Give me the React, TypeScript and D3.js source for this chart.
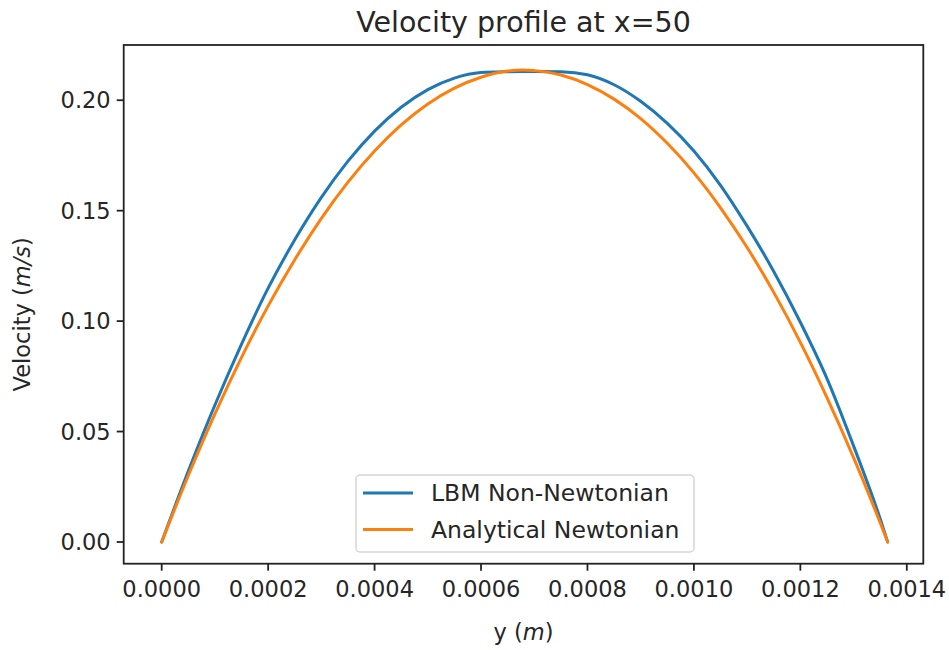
import React from "react";
import * as d3 from "d3";

const yPos: number[] = [0, 0.00005, 0.0001, 0.00015, 0.0002, 0.00025, 0.0003, 0.00035, 0.0004, 0.00045, 0.0005, 0.00055, 0.0006, 0.00065, 0.00068, 0.0007, 0.00075, 0.0008, 0.00085, 0.0009, 0.00095, 0.001, 0.00105, 0.0011, 0.00115, 0.0012, 0.00125, 0.0013, 0.00135, 0.001364];
const lbmVel: number[] = [0, 0.0321, 0.062, 0.0896, 0.1149, 0.1368, 0.156, 0.1724, 0.186, 0.1968, 0.2048, 0.21, 0.2125, 0.2129, 0.213, 0.213, 0.2129, 0.2115, 0.207, 0.1995, 0.1895, 0.177, 0.1615, 0.143, 0.1225, 0.0995, 0.074, 0.0435, 0.0105, 0];
const analyticVel: number[] = [0, 0.0301, 0.058, 0.0836, 0.1069, 0.1278, 0.1465, 0.1629, 0.177, 0.1888, 0.1983, 0.2055, 0.2104, 0.2132, 0.2137, 0.2134, 0.2114, 0.2071, 0.2005, 0.1917, 0.1805, 0.1671, 0.1513, 0.1333, 0.113, 0.0904, 0.0654, 0.0382, 0.0087, 0];
const xTicks: number[] = [0, 0.0002, 0.0004, 0.0006, 0.0008, 0.001, 0.0012, 0.0014];
const yTicks: number[] = [0, 0.05, 0.1, 0.15, 0.2];
const seriesNames: string[] = ["LBM Non-Newtonian", "Analytical Newtonian"];
const colors: string[] = ["#1f77b4", "#ff7f0e"];

const FONT = "'DejaVu Sans', sans-serif";

export default function App() {
  const left = 123.7, right = 923.3, top = 45, bottom = 563.7;
  const x = d3.scaleLinear().domain([-0.0000714, 0.001431]).range([left, right]);
  const y = d3.scaleLinear().domain([-0.00983, 0.225]).range([bottom, top]);
  const line = d3.line<[number, number]>().x((d) => x(d[0])).y((d) => y(d[1])).curve(d3.curveMonotoneX);
  const series = [lbmVel, analyticVel];
  const tickLen = 7;
  return (
    <svg width={949} height={650} style={{ position: "absolute", left: 0, top: 0, background: "#fff" }} fontFamily={FONT}>
      <rect x={0} y={0} width={949} height={650} fill="#fff" />
      {series.map((s, i) => (
        <path key={i} d={line(yPos.map((p, j) => [p, s[j]] as [number, number])) || ""} fill="none" stroke={colors[i]} strokeWidth={3} strokeLinejoin="round" strokeLinecap="round" />
      ))}
      <rect x={left} y={top} width={right - left} height={bottom - top} fill="none" stroke="#222" strokeWidth={1.8} />
      {xTicks.map((t) => (
        <g key={t} transform={`translate(${x(t)},0)`}>
          <line y1={bottom} y2={bottom + tickLen} stroke="#222" strokeWidth={1.8} />
          <text y={bottom + 16} dy="0.76em" textAnchor="middle" fontSize={22.5} fill="#262626">{t.toFixed(4)}</text>
        </g>
      ))}
      {yTicks.map((t) => (
        <g key={t} transform={`translate(0,${y(t)})`}>
          <line x1={left - tickLen} x2={left} stroke="#222" strokeWidth={1.8} />
          <text x={left - tickLen - 6} dy="0.36em" textAnchor="end" fontSize={22.5} fill="#262626">{t.toFixed(2)}</text>
        </g>
      ))}
      <text x={(left + right) / 2} y={32} textAnchor="middle" fontSize={28.5} fill="#262626">Velocity profile at x=50</text>
      <text x={(left + right) / 2} y={640} textAnchor="middle" fontSize={22.5} fill="#262626">
        y (<tspan fontStyle="italic">m</tspan>)
      </text>
      <text transform={`translate(30,${(top + bottom) / 2 + 10}) rotate(-90)`} textAnchor="middle" fontSize={22.5} fill="#262626">
        Velocity (<tspan fontStyle="italic">m/s</tspan>)
      </text>
      <g>
        <rect x={356} y={475} width={338} height={77} rx={4} fill="#fff" fillOpacity={0.8} stroke="#d5d5d5" strokeWidth={1.5} />
        {seriesNames.map((n, i) => (
          <g key={n} transform={`translate(0,${493 + i * 36.5})`}>
            <line x1={363} x2={413} stroke={colors[i]} strokeWidth={3} />
            <text x={431} dy="0.36em" fontSize={23.5} fill="#262626">{n}</text>
          </g>
        ))}
      </g>
    </svg>
  );
}
